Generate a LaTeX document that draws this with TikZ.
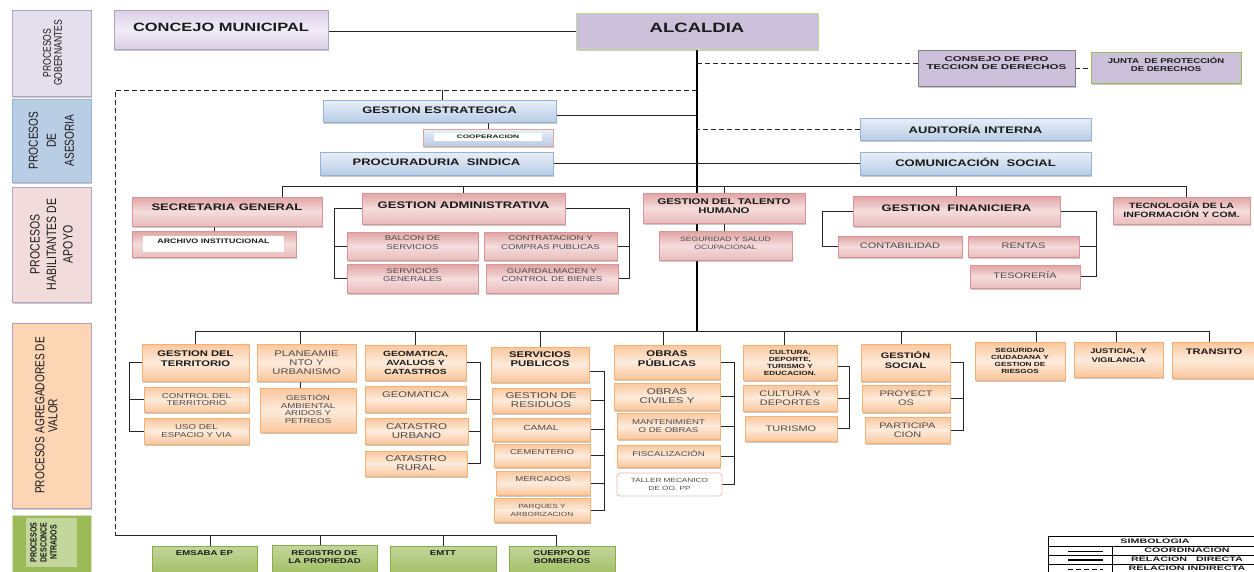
\documentclass[tikz,border=0pt]{standalone}
\usepackage{fontspec}
\setmainfont{Liberation Sans}[FakeStretch=1.37]
\newfontfamily\rotfont{Liberation Sans}[FakeStretch=0.78]
\newfontfamily\widefont{Liberation Sans}[FakeStretch=1.65]
\usetikzlibrary{shadows}
\pgfdeclarelayer{back}
\pgfdeclarelayer{bg}
\pgfsetlayers{back,bg,main}
\definecolor{tdark}{HTML}{1A1A1A}
\definecolor{tgray}{HTML}{4A4A4A}
\definecolor{lineC}{HTML}{262626}
\definecolor{gobF}{HTML}{E4DFEC}
\definecolor{lBorder}{HTML}{B3A2C7}
\definecolor{aseF}{HTML}{B9CDE5}
\definecolor{habF}{HTML}{F2DCDB}
\definecolor{agrF}{HTML}{FCD5B5}
\definecolor{desF}{HTML}{9BBB59}
\definecolor{desIn}{HTML}{C3D69B}
\definecolor{desD}{HTML}{D7E4BD}
\definecolor{purL}{HTML}{F1ECF6}
\definecolor{purM}{HTML}{DBD0E8}
\definecolor{alcF}{HTML}{CCC0DA}
\definecolor{alcD}{HTML}{C3D69B}
\definecolor{conD}{HTML}{7F7F7F}
\definecolor{blueL}{HTML}{E8EFF8}
\definecolor{blueM}{HTML}{B9CDE5}
\definecolor{blueD}{HTML}{95B3D7}
\definecolor{pinkM}{HTML}{E0A4A3}
\definecolor{pinkM2}{HTML}{E8BDBC}
\definecolor{pinkL}{HTML}{F5DCDC}
\definecolor{pinkD}{HTML}{D99694}
\definecolor{peachM}{HTML}{FAC79C}
\definecolor{peachL}{HTML}{FDEBDC}
\definecolor{peachD}{HTML}{F9B074}
\definecolor{greenL}{HTML}{C3D69B}
\definecolor{greenM}{HTML}{9BBB59}
\definecolor{greenD}{HTML}{8AAB4A}
\newcommand\fz[2]{\fontsize{#1}{#2}\selectfont}
% style, textstyle, x1, y1, x2, y2, name, text shift, text
\newcommand\obox[9]{%
  \node[#1,anchor=north west,minimum width={(#5-#3)*1pt},minimum height={(#6-#4)*1pt}] (#7) at (#3,#4) {};%
  \node[#2] (#7t) at ([yshift=0pt,#8]#7.center) {#9};}
\begin{document}
\begin{tikzpicture}[x=1pt,y=-1pt,
  shad/.style={drop shadow={shadow xshift=1.2pt,shadow yshift=-1.5pt,opacity=0.35,fill=black!60}},
  bb/.style={draw,line width=0.8pt,inner sep=0pt,outer sep=0pt},
  lcol/.style={bb,shad,draw=lBorder},
  purB/.style={bb,shad,draw=lBorder,top color=purM,bottom color=purM,middle color=purL},
  blueB/.style={bb,shad,draw=blueD,top color=blueL,bottom color=blueM},
  pinkB/.style={bb,shad,draw=pinkD,top color=pinkM,bottom color=pinkM2,middle color=pinkL},
  peachB/.style={bb,shad,draw=peachD,top color=peachM,bottom color=peachM,middle color=peachL},
  greenB/.style={bb,shad,draw=greenD,top color=greenL,bottom color=greenM},
  tb/.style n args={2}{inner sep=0pt,align=center,text=tdark,font=\fz{#1}{#2}\bfseries},
  tr/.style n args={2}{inner sep=0pt,align=center,text=tgray,font=\fz{#1}{#2}},
  tw/.style n args={2}{inner sep=0pt,align=center,text=tdark,font=\widefont\fz{#1}{#2}\bfseries},
  rt/.style n args={2}{inner sep=0pt,align=center,text=tdark,rotate=90,font=\rotfont\fz{#1}{#2}},
  rtb/.style n args={2}{inner sep=0pt,align=center,text=tdark,rotate=90,font=\rotfont\fz{#1}{#2}\bfseries},
  ln/.style={draw=lineC,line width=1pt},
  spine/.style={draw=black,line width=1.4pt},
  dln/.style={ln,dash pattern=on 5pt off 3pt},
  tbl/.style={draw=black,line width=0.6pt}]
\useasboundingbox (0,0) rectangle (1254,571);
\begin{pgfonlayer}{back}
\fill[white] (0,0) rectangle (1254,571);
\end{pgfonlayer}

% ---------- left column ----------
\obox{lcol,fill=gobF}{rt={11}{11}}{12}{10}{91}{96}{pgob}{xshift=1pt}{PROCESOS\\GOBERNANTES}
\obox{lcol,fill=aseF,draw=blueD}{rt={13}{18}}{12}{99}{91}{182}{pase}{}{PROCESOS\\DE\\ASESORIA}
\obox{lcol,fill=habF}{rt={13.5}{16.5}}{12}{187}{91}{302}{phab}{}{PROCESOS\\HABILITANTES DE\\APOYO}
\obox{lcol,fill=agrF}{rt={13}{13}}{12}{323}{91}{508}{pagr}{xshift=-5pt}{PROCESOS AGREGADORES DE\\VALOR}
\obox{lcol,fill=desF,draw=desD}{}{12}{515}{91}{580}{pdes}{}{}
\obox{bb,fill=desIn,draw=none}{rtb={9}{10}}{26}{518}{77}{567}{pdesin}{xshift=-8pt}{PROCESOS\\DESCONCE\\NTRADOS}

% ---------- top ----------
\obox{purB}{tb={12}{14}}{114}{10}{328}{49}{concejo}{yshift=2pt}{CONCEJO MUNICIPAL}
\obox{bb,shad,fill=alcF,draw=alcD}{tb={13.5}{15}}{576}{13}{818}{49}{alc}{yshift=3pt}{ALCALDIA}
\obox{bb,shad,fill=alcF,draw=conD}{tw={7}{8.5}}{918}{50}{1075}{86}{consejo}{yshift=5pt}{CONSEJO DE PRO\\TECCION DE DERECHOS}
\obox{bb,shad,fill=alcF,draw=greenM}{tb={7}{7.5}}{1091}{52}{1241}{83}{junta}{yshift=3pt}{JUNTA~~DE PROTECCIÓN\\DE DERECHOS}

% ---------- asesoria ----------
\obox{blueB}{tb={9.5}{11}}{323}{100}{556}{122}{gest}{yshift=1pt}{GESTION ESTRATEGICA}
\obox{blueB,draw=pinkM}{}{423}{129}{553}{146}{coop}{}{}
\obox{bb,fill=white,draw=none}{tw={5}{6}}{434}{133}{542}{141}{coopin}{}{COOPERACION}
\obox{blueB}{tb={9.5}{11}}{320}{152}{553}{175}{proc}{yshift=1pt}{PROCURADURIA~~SINDICA}
\obox{blueB}{tb={9.5}{11}}{860}{118}{1091}{140}{aud}{}{AUDITORÍA INTERNA}
\obox{blueB}{tb={9.5}{11}}{860}{152}{1091}{175}{com}{yshift=1pt}{COMUNICACIÓN~~SOCIAL}

% ---------- apoyo ----------
\obox{pinkB}{tb={9.5}{11}}{132}{197}{322}{226}{secgen}{yshift=4pt}{SECRETARIA GENERAL}
\obox{pinkB}{}{132}{231}{296}{257}{arch}{}{}
\obox{bb,fill=white,draw=none}{tb={6.5}{7.5}}{143}{236}{284}{252}{archin}{yshift=3pt}{ARCHIVO INSTITUCIONAL}
\obox{pinkB}{tb={9.5}{11}}{362}{193}{565}{224}{admin}{yshift=3pt}{GESTION ADMINISTRATIVA}
\obox{pinkB}{tr={7}{8.5}}{347}{232}{478}{260}{balcon}{yshift=3.5pt}{BALCON DE\\SERVICIOS}
\obox{pinkB}{tr={7}{8.5}}{347}{264}{478}{293}{servgen}{yshift=3.5pt}{SERVICIOS\\GENERALES}
\obox{pinkB}{tr={7}{8.5}}{484}{232}{617}{260}{contrat}{yshift=3.5pt}{CONTRATACION Y\\COMPRAS PUBLICAS}
\obox{pinkB}{tr={7}{8.5}}{486}{264}{618}{293}{guard}{yshift=3.5pt}{GUARDALMACEN Y\\CONTROL DE BIENES}
\obox{pinkB}{tb={8.3}{9}}{643}{193}{805}{223}{tal}{yshift=1.5pt}{GESTION DEL TALENTO\\HUMANO}
\obox{pinkB}{tr={6.3}{7.5}}{659}{231}{792}{260}{segsal}{yshift=2pt}{SEGURIDAD Y SALUD\\OCUPACIONAL}
\obox{pinkB}{tb={9.5}{11}}{853}{196}{1060}{226}{fin}{yshift=3pt}{GESTION~~FINANICIERA}
\obox{pinkB}{tr={8}{9}}{838}{236}{962}{257}{contab}{yshift=1pt}{CONTABILIDAD}
\obox{pinkB}{tr={8}{9}}{968}{236}{1079}{257}{rentas}{yshift=1pt}{RENTAS}
\obox{pinkB}{tr={8}{9}}{970}{265}{1080}{288}{tesor}{yshift=1pt}{TESORERÍA}
\obox{pinkB}{tb={7.7}{9}}{1113}{197}{1250}{224}{tec}{yshift=1pt}{TECNOLOGÍA DE LA\\INFORMACIÓN Y COM.}

% ---------- agregadores de valor ----------
\obox{peachB}{tb={8.2}{10}}{142}{344}{249}{381}{terr}{yshift=3.5pt}{GESTION DEL\\TERRITORIO}
\obox{peachB}{tr={7.1}{7.5}}{144}{387}{249}{412}{ctrl}{}{CONTROL DEL\\TERRITORIO}
\obox{peachB}{tr={7.1}{7.5}}{144}{418}{249}{444}{uso}{}{USO DEL\\ESPACIO Y VIA}
\obox{peachB}{tr={8.2}{9}}{257}{344}{356}{381}{plan}{}{PLANEAMIE\\NTO Y\\URBANISMO}
\obox{peachB}{tr={7.1}{7.5}}{260}{388}{356}{432}{amb}{yshift=1pt}{GESTIÓN\\AMBIENTAL\\ARIDOS Y\\PETREOS}
\obox{peachB}{tb={7.5}{9}}{365}{345}{466}{380}{geoT}{}{GEOMATICA,\\AVALUOS Y\\CATASTROS}
\obox{peachB}{tr={8.2}{9}}{365}{386}{466}{412}{geom}{yshift=4pt}{GEOMATICA}
\obox{peachB}{tr={8.4}{9}}{365}{418}{468}{444}{catU}{}{CATASTRO\\URBANO}
\obox{peachB}{tr={8.4}{9}}{365}{451}{467}{476}{catR}{}{CATASTRO\\RURAL}
\obox{peachB}{tb={8.3}{9}}{491}{347}{589}{382}{servT}{yshift=5pt}{SERVICIOS\\PUBLICOS}
\obox{peachB}{tr={8.4}{9}}{492}{388}{590}{413}{resid}{}{GESTION DE\\RESIDUOS}
\obox{peachB}{tr={7.5}{9}}{492}{418}{590}{441}{camal}{yshift=2pt}{CAMAL}
\obox{peachB}{tr={7}{9}}{494}{444}{590}{467}{cement}{yshift=3pt}{CEMENTERIO}
\obox{peachB}{tr={7}{9}}{496}{471}{590}{495}{merc}{yshift=4pt}{MERCADOS}
\obox{peachB}{tr={6}{8}}{494}{498}{590}{522}{parq}{}{PARQUES Y\\ARBORIZACION}
\obox{peachB}{tb={8.3}{10}}{614}{345}{720}{379}{obrT}{yshift=3pt}{OBRAS\\PÚBLICAS}
\obox{peachB}{tr={8.4}{9}}{614}{383}{720}{410}{civ}{}{OBRAS\\CIVILES Y}
\obox{peachB}{tr={7}{8}}{617}{413}{720}{439}{mant}{}{MANTENIMIENT\\O DE OBRAS}
\obox{peachB}{tr={7}{8}}{617}{445}{720}{467}{fisc}{yshift=3pt}{FISCALIZACIÓN}
\obox{bb,fill=white,draw=pinkM2,rounded corners=3pt}{tr={6}{8}}{617}{473}{722}{496}{taller}{}{TALLER MECANICO\\DE OO. PP}
\obox{peachB}{tb={6}{7}}{743}{345}{837}{380}{cultT}{}{CULTURA,\\DEPORTE,\\TURISMO Y\\EDUCACION.}
\obox{peachB}{tr={8}{9.5}}{743}{385}{837}{411}{cultD}{}{CULTURA Y\\DEPORTES}
\obox{peachB}{tr={8}{9}}{745}{416}{837}{441}{tur}{}{TURISMO}
\obox{peachB}{tb={8}{10}}{861}{344}{950}{381}{socT}{yshift=3pt}{GESTIÓN\\SOCIAL}
\obox{peachB}{tr={8}{9}}{862}{385}{950}{412}{proy}{}{PROYECT\\OS}
\obox{peachB}{tr={8}{9}}{865}{417}{950}{443}{part}{}{PARTICIPA\\CION}
\obox{peachB}{tb={6}{6.8}}{975}{342}{1065}{380}{segC}{}{SEGURIDAD\\CIUDADANA Y\\GESTION DE\\RIESGOS}
\obox{peachB}{tb={6.8}{9}}{1074}{342}{1163}{377}{just}{yshift=4pt}{JUSTICIA,~~Y\\VIGILANCIA}
\obox{peachB}{tb={8.1}{9}}{1172}{342}{1264}{378}{trans}{yshift=8pt,xshift=-4pt}{TRANSITO}

% ---------- desconcentrados ----------
\obox{greenB}{tb={7}{8}}{152}{546}{257}{580}{ems}{yshift=10pt}{EMSABA EP}
\obox{greenB}{tb={7}{8}}{272}{545}{377}{580}{reg}{yshift=5.5pt}{REGISTRO DE\\LA PROPIEDAD}
\obox{greenB}{tb={7}{8}}{390}{546}{496}{580}{emtt}{yshift=10pt}{EMTT}
\obox{greenB}{tb={7}{8}}{509}{546}{615}{580}{bomb}{yshift=5.5pt}{CUERPO DE\\BOMBEROS}

% ---------- connectors ----------
\begin{pgfonlayer}{bg}
\coordinate (fTL) at (115,90);
\coordinate (fBL) at (115,535);
\coordinate (fBR) at (556,535);
\coordinate (dGest) at (442,90);
\coordinate (busA) at (282,186);
\coordinate (busAe) at (1186,186);
\coordinate (busB) at (195,331);
\coordinate (busBe) at (1209,331);
\coordinate (bAL) at (334,0);
\coordinate (bAR) at (629,0);
\coordinate (bFL) at (822,0);
\coordinate (bFR) at (1096,0);
\coordinate (bT) at (129,0);
\coordinate (bG) at (480,0);
\coordinate (bS) at (604,0);
\coordinate (bO) at (734,0);
\coordinate (bC) at (849,0);
\coordinate (bSo) at (963,0);
\coordinate (dPlan) at (300,331);

\draw[ln] (alc.west) -- (alc.west -| concejo.east);
\draw[spine] (alc.south) -- (alc.south |- busB);
\draw[dln] ([yshift=5pt]consejo.west) -- ([yshift=5pt]consejo.west -| alc.south);
\draw[dln] (consejo.east) -- (consejo.east -| junta.west);
\draw[dln] (aud.west) -- (aud.west -| alc.south);
\draw[ln] (com.west) -- (proc.east);
\draw[ln] ([yshift=-4pt]gest.east) -- ([yshift=-4pt]gest.east -| alc.south);
\draw[ln] (coop.north) -- (coop.north |- gest.south);
\draw[dln] (fTL -| alc.south) -- (fTL) -- (fBL);
\draw[ln] (dGest) -- (dGest |- gest.north);
\draw[ln] (fBL) -- (fBR);
\foreach \x/\n in {210/ems,320/reg,443/emtt,556/bomb}
  \draw[ln] (\x,535) -- (\x,535 |- \n.north);

% apoyo
\draw[ln] (busA) -- (busAe);
\draw[ln] (busA) -- (busA |- secgen.north);
\draw[ln] (admin.north) -- (admin.north |- busA);
\draw[ln] (tal.north) -- (tal.north |- busA);
\draw[ln] (fin.north) -- (fin.north |- busA);
\draw[ln] (busAe) -- (busAe |- tec.north);
\draw[ln] (arch.north) -- (arch.north |- secgen.south);
\draw[ln] (admin.west) -- (admin.west -| bAL) |- (servgen.west);
\draw[ln] (balcon.west) -- (balcon.west -| bAL);
\draw[ln] (admin.east) -- (admin.east -| bAR) |- (guard.east);
\draw[ln] (contrat.east) -- (contrat.east -| bAR);
\draw[ln] (tal.south) -- (tal.south |- segsal.north);
\draw[ln] (fin.west) -- (fin.west -| bFL) |- (contab.west);
\draw[ln] (fin.east) -- (fin.east -| bFR) |- (tesor.east);
\draw[ln] (rentas.east) -- (rentas.east -| bFR);

% agregadores
\draw[ln] (busB) -- (busBe);
\foreach \x/\n in {195/terr,300/plan,415/geoT,540/servT,663/obrT,784/cultT,901/socT,1036/segC,1116/just,1209/trans}
  \draw[ln] (\x,331) -- (\x,331 |- \n.north);
\draw[ln] (dPlan |- plan.south) -- (dPlan |- amb.north);
\draw[ln] (terr.west) -- (terr.west -| bT) |- (uso.west);
\draw[ln] (ctrl.west) -- (ctrl.west -| bT);
\draw[ln] (geoT.east) -- (geoT.east -| bG) |- (catR.east);
\foreach \n in {geom,catU} \draw[ln] (\n.east) -- (\n.east -| bG);
\draw[ln] ([yshift=-7pt]servT.east) -- ([yshift=-7pt]servT.east -| bS) |- (parq.east);
\foreach \n in {resid,camal,cement,merc} \draw[ln] (\n.east) -- (\n.east -| bS);
\draw[ln] (obrT.east) -- (obrT.east -| bO) |- (taller.east);
\foreach \n in {civ,mant,fisc} \draw[ln] (\n.east) -- (\n.east -| bO);
\draw[ln] ([yshift=-4pt]cultT.east) -- ([yshift=-4pt]cultT.east -| bC) |- (tur.east);
\draw[ln] (cultD.east) -- (cultD.east -| bC);
\draw[ln] (socT.east) -- (socT.east -| bSo) |- (part.east);
\draw[ln] (proy.east) -- (proy.east -| bSo);
\end{pgfonlayer}

% ---------- legend ----------
\draw[tbl] (1048,536) rectangle (1262,585);
\draw[tbl] (1048,546) -- (1262,546);
\draw[tbl] (1048,555) -- (1262,555);
\draw[tbl] (1048,564) -- (1262,564);
\draw[tbl] (1112,546) -- (1112,585);
\node[tw={6.5}{7}] (simb) at (1155,541) {SIMBOLOGIA};
\node[tw={6.5}{7}] (lcoor) at (1187,550.5) {COORDINACION};
\node[tw={6.5}{7}] (ldir) at (1187,559.5) {RELACION~~~DIRECTA};
\node[tw={6.5}{7}] (lind) at (1187,568.5) {RELACION INDIRECTA};
\coordinate (s1) at (1068,551);
\coordinate (s2) at (1068,560);
\coordinate (s3) at (1068,569.5);
\draw[line width=0.5pt] (s1) -- ++(35,0);
\draw[line width=1.3pt] (s2) -- ++(35,0);
\draw[line width=1pt,dash pattern=on 5pt off 3pt] (s3) -- ++(35,0);
\end{tikzpicture}
\end{document}
